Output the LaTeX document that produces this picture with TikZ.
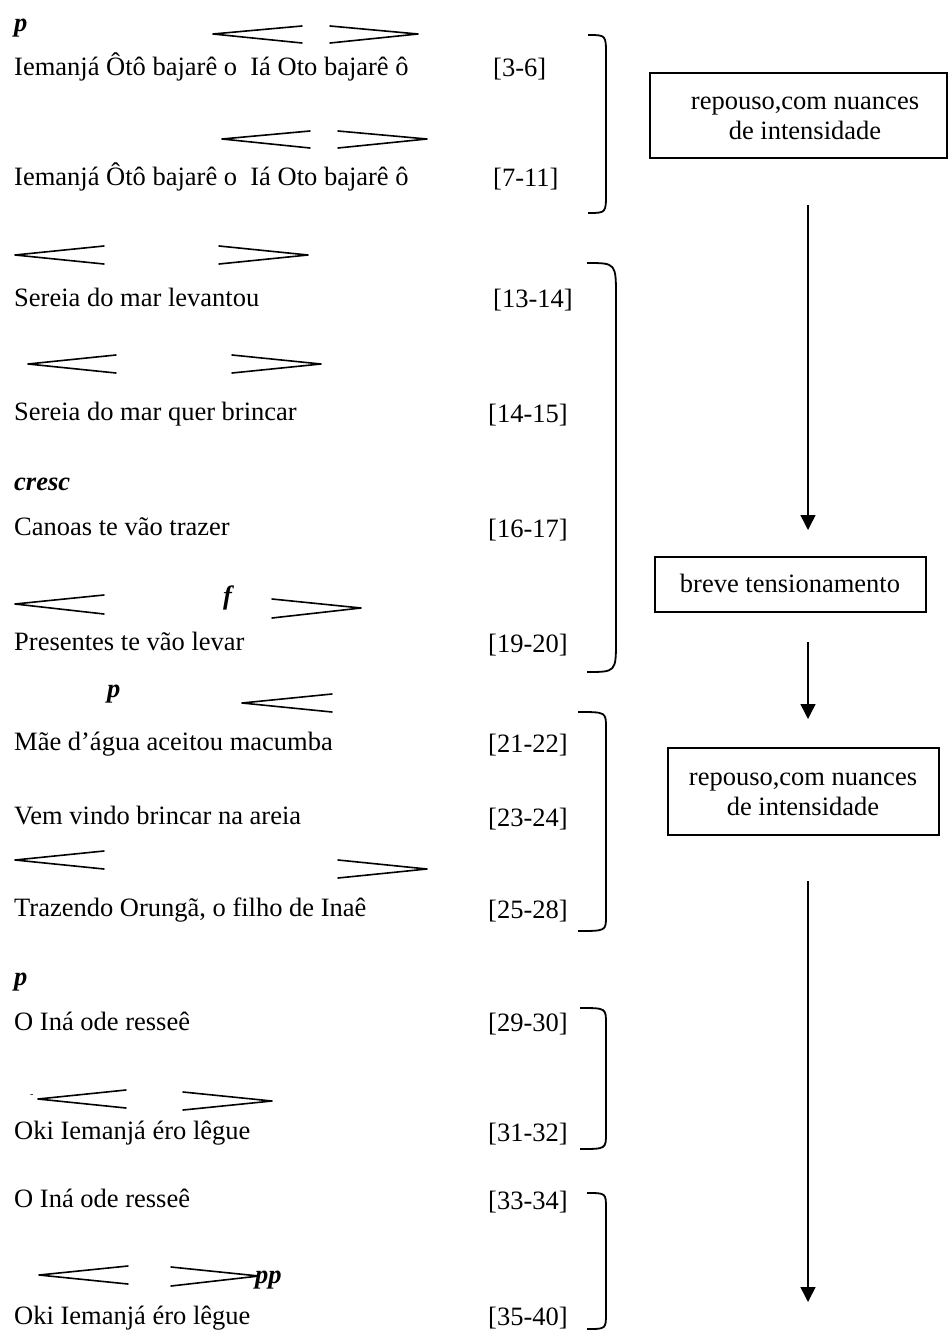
\documentclass[tikz,border=0pt]{standalone}
\usepackage{fontspec}
\setmainfont{Liberation Serif}
\usetikzlibrary{arrows.meta}
\begin{document}
\begin{tikzpicture}[x=1pt,y=-1pt,
  lyr/.style={anchor=base west, inner sep=0pt, font=\fontsize{26.5}{30}\selectfont},
  num/.style={anchor=base west, inner sep=0pt, font=\fontsize{26.5}{30}\selectfont},
  dyn/.style={anchor=base west, inner sep=0pt, font=\fontsize{26.5}{30}\selectfont\bfseries\itshape},
  btxt/.style={anchor=base, inner sep=0pt, font=\fontsize{26.5}{30}\selectfont},
  hp/.style={line width=1.6pt, line join=round, line cap=round},
  brace/.style={line width=1.8pt},
  box/.style={draw, line width=1.5pt, inner sep=0pt},
  arr/.style={line width=1.5pt, -{Triangle[width=15pt,length=15pt]}},
]
\useasboundingbox (0,0) rectangle (949,1332);

% ---- lyrics ----
\node[dyn] (d1) at (14,32) {p};
\node[lyr] (l1) at (14,76) {Iemanjá Ôtô bajarê o\ \ Iá Oto bajarê ô};
\node[num] (n1) at (493,77) {[3-6]};
\node[lyr] (l2) at (14,186) {Iemanjá Ôtô bajarê o\ \ Iá Oto bajarê ô};
\node[num] (n2) at (493,187) {[7-11]};
\node[lyr] (l3) at (14,306) {Sereia do mar levantou};
\node[num] (n3) at (493,307) {[13-14]};
\node[lyr] (l4) at (14,420) {Sereia do mar quer brincar};
\node[num] (n4) at (488,422) {[14-15]};
\node[dyn] (d2) at (14,490) {cresc};
\node[lyr] (l5) at (14,535) {Canoas te vão trazer};
\node[num] (n5) at (488,537) {[16-17]};
\node[dyn] (d3) at (223,604) {f};
\node[lyr] (l6) at (14,650) {Presentes te vão levar};
\node[num] (n6) at (488,652) {[19-20]};
\node[dyn] (d4) at (107,697) {p};
\node[lyr] (l7) at (14,750) {Mãe d’água aceitou macumba};
\node[num] (n7) at (488,752) {[21-22]};
\node[lyr] (l8) at (14,824) {Vem vindo brincar na areia};
\node[num] (n8) at (488,826) {[23-24]};
\node[lyr] (l9) at (14,916) {Trazendo Orungã, o filho de Inaê};
\node[num] (n9) at (488,918) {[25-28]};
\node[dyn] (d5) at (14,985) {p};
\node[lyr] (l10) at (14,1030) {O Iná ode resseê};
\node[num] (n10) at (488,1031) {[29-30]};
\node[anchor=base west, inner sep=0pt, font=\fontsize{10}{12}\selectfont] (dash) at (30,1097) {-};
\node[lyr] (l11) at (14,1139) {Oki Iemanjá éro lêgue};
\node[num] (n11) at (488,1141) {[31-32]};
\node[lyr] (l12) at (14,1207) {O Iná ode resseê};
\node[num] (n12) at (488,1209) {[33-34]};
\node[dyn] (d6) at (255,1283) {pp};
\node[lyr] (l13) at (14,1324) {Oki Iemanjá éro lêgue};
\node[num] (n13) at (488,1325) {[35-40]};

% ---- hairpins ----
\draw[hp] (302,26) -- (213,34) -- (302,43);
\draw[hp] (330,26) -- (418,34) -- (330,43);
\draw[hp] (310,131) -- (222,139) -- (310,148);
\draw[hp] (338,131) -- (427,139) -- (338,148);
\draw[hp] (104,246) -- (15,255) -- (104,264);
\draw[hp] (219,246) -- (308,255) -- (219,264);
\draw[hp] (116,355) -- (28,364) -- (116,373);
\draw[hp] (232,355) -- (321,364) -- (232,373);
\draw[hp] (104,595) -- (15,604) -- (104,614);
\draw[hp] (272,599) -- (361,608) -- (272,618);
\draw[hp] (332,694) -- (242,703) -- (332,712);
\draw[hp] (104,851) -- (15,860) -- (104,869);
\draw[hp] (338,860) -- (427,869) -- (338,878);
\draw[hp] (126,1090) -- (38,1099) -- (126,1108);
\draw[hp] (183,1092) -- (272,1101) -- (183,1110);
\draw[hp] (128,1266) -- (39,1275) -- (128,1284);
\draw[hp] (171,1267) -- (259,1276) -- (171,1286);

% ---- braces ----
\draw[brace] (588,35) .. controls (606,35) .. (606,55) -- (606,193) .. controls (606,213) .. (588,213);
\draw[brace] (587,263) .. controls (616,263) .. (616,297) -- (616,640) .. controls (616,672) .. (587,672);
\draw[brace] (578,712) .. controls (606,712) .. (606,728) -- (606,916) .. controls (606,931) .. (578,931);
\draw[brace] (580,1008) .. controls (606,1008) .. (606,1024) -- (606,1133) .. controls (606,1149) .. (580,1149);
\draw[brace] (587,1193) .. controls (606,1193) .. (606,1209) -- (606,1313) .. controls (606,1329) .. (587,1329);

% ---- boxes ----
\node[box, minimum width=297pt, minimum height=85pt] (b1) at (798.5,115.5) {};
\node[btxt] (b1a) at (805,110) {repouso,com nuances};
\node[btxt] (b1b) at (805,140) {de intensidade};
\node[box, minimum width=271pt, minimum height=55pt] (b2) at (790.5,584.5) {};
\node[btxt] (b2a) at (790,592) {breve tensionamento};
\node[box, minimum width=271pt, minimum height=87pt] (b3) at (803.5,791.5) {};
\node[btxt] (b3a) at (803,785) {repouso,com nuances};
\node[btxt] (b3b) at (803,815) {de intensidade};

% ---- arrows ----
\coordinate (a1s) at (808,205);
\coordinate (a1e) at (808,530);
\coordinate (a2s) at (808,642);
\coordinate (a2e) at (808,719);
\coordinate (a3s) at (808,881);
\coordinate (a3e) at (808,1302);
\draw[arr] (a1s) -- (a1e);
\draw[arr] (a2s) -- (a2e);
\draw[arr] (a3s) -- (a3e);
\end{tikzpicture}
\end{document}
